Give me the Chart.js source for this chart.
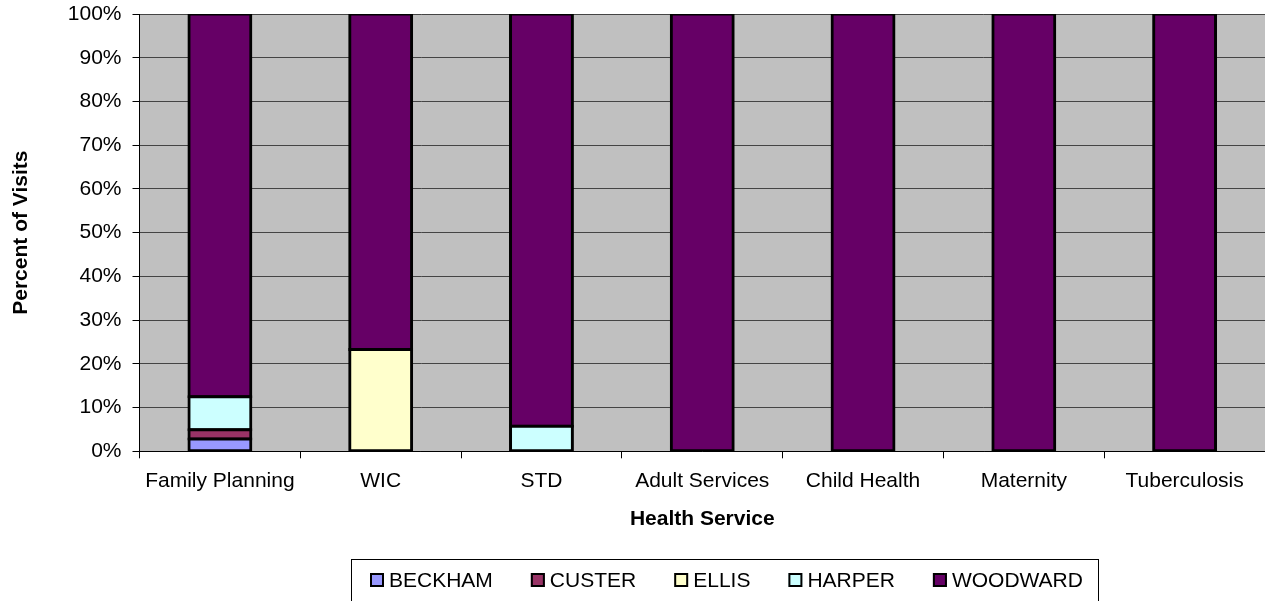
<!DOCTYPE html>
<html>
<head>
<meta charset="utf-8">
<script src="https://cdn.jsdelivr.net/npm/chart.js@4"></script>
<style>
html,body{margin:0;padding:0;background:#fff;}
#wrap{width:1265px;height:601px;position:relative;}
</style>
</head>
<body>
<div id="wrap"><canvas id="c"></canvas></div>
<script>
const categories = ["Family Planning", "WIC", "STD", "Adult Services", "Child Health", "Maternity", "Tuberculosis"];
const beckham  = [2.8, 0, 0, 0, 0, 0, 0];
const custer   = [2.1, 0, 0, 0, 0, 0, 0];
const ellis    = [0, 23.3, 0, 0, 0, 0, 0];
const harper   = [7.6, 0, 5.7, 0, 0, 0, 0];
const woodward = [87.5, 76.7, 94.3, 100, 100, 100, 100];
const seriesNames = ["BECKHAM", "CUSTER", "ELLIS", "HARPER", "WOODWARD"];
const seriesColors = ["#9999FF", "#993366", "#FFFFCC", "#CCFFFF", "#660066"];
const yTicks = [0, 10, 20, 30, 40, 50, 60, 70, 80, 90, 100];

const FONT = "'Liberation Sans', Arial, sans-serif";
const seriesData = [beckham, custer, ellis, harper, woodward];

const plotBg = {
  id: 'plotBg',
  beforeDraw(chart) {
    const {ctx, chartArea: a} = chart;
    ctx.save();
    ctx.fillStyle = '#C0C0C0';
    ctx.fillRect(a.left, a.top, a.right - a.left, a.bottom - a.top);
    ctx.restore();
  }
};

const boxLegend = {
  id: 'boxLegend',
  afterDraw(chart) {
    const ctx = chart.ctx;
    ctx.save();
    ctx.strokeStyle = '#000';
    ctx.lineWidth = 1;
    ctx.strokeRect(351.5, 559.5, 747, 60);
    ctx.font = '21px ' + FONT;
    ctx.textBaseline = 'middle';
    ctx.textAlign = 'left';
    let x = 370;
    const cy = 580;
    chart.data.datasets.forEach(ds => {
      ctx.fillStyle = ds.backgroundColor;
      ctx.fillRect(x, cy - 7, 14, 14);
      ctx.lineWidth = 2;
      ctx.strokeStyle = '#000';
      ctx.strokeRect(x + 1, cy - 6, 12, 12);
      ctx.fillStyle = '#000';
      ctx.fillText(ds.label, x + 19, cy + 1);
      const w = ctx.measureText(ds.label).width;
      x = x + 19 + w + 38;
    });
    ctx.restore();
  }
};

new Chart(document.getElementById('c'), {
  type: 'bar',
  data: {
    labels: categories,
    datasets: seriesNames.map((n, i) => ({
      label: n,
      data: seriesData[i].map(v => v === 0 ? null : v),
      backgroundColor: seriesColors[i],
      borderColor: '#000',
      borderWidth: 3,
      borderSkipped: false,
      inflateAmount: 1.5,
      barPercentage: 0.385,
      categoryPercentage: 1
    }))
  },
  options: {
    responsive: true,
    maintainAspectRatio: false,
    animation: false,
    layout: { padding: { top: 14, right: 0, bottom: 68.9, left: 0 } },
    plugins: {
      legend: { display: false },
      tooltip: { enabled: false }
    },
    scales: {
      x: {
        stacked: true,
        afterFit(s) { s.height = 80.8; s.paddingLeft = 0; s.paddingRight = 0; s.paddingTop = 0; s.paddingBottom = 0; },
        grid: { offset: true, drawOnChartArea: false, drawTicks: true, tickLength: 7, color: '#000', tickColor: '#000', lineWidth: 1 },
        border: { display: true, color: '#000', width: 1 },
        ticks: { color: '#000', font: { family: FONT, size: 21 }, padding: 10, maxRotation: 0, autoSkip: false },
        title: { display: true, text: 'Health Service', color: '#000', font: { family: FONT, size: 21, weight: 'bold' }, padding: { top: 0, bottom: 0 } }
      },
      y: {
        stacked: true,
        min: 0,
        max: 100,
        afterFit(s) { s.width = 139.5; s.paddingTop = 0; s.paddingBottom = 0; s.paddingLeft = 0; s.paddingRight = 0; },
        afterBuildTicks(s) { s.ticks = yTicks.map(v => ({ value: v })); },
        grid: { color: '#444', lineWidth: 1, drawTicks: true, tickLength: 7, tickColor: '#000' },
        border: { display: true, color: '#000', width: 1 },
        ticks: { color: '#000', font: { family: FONT, size: 21 }, padding: 11, callback: v => v + '%' },
        title: { display: true, text: 'Percent of Visits', color: '#000', font: { family: FONT, size: 21, weight: 'bold' }, padding: { top: 9, bottom: 0 } }
      }
    }
  },
  plugins: [plotBg, boxLegend]
});
</script>
</body>
</html>
